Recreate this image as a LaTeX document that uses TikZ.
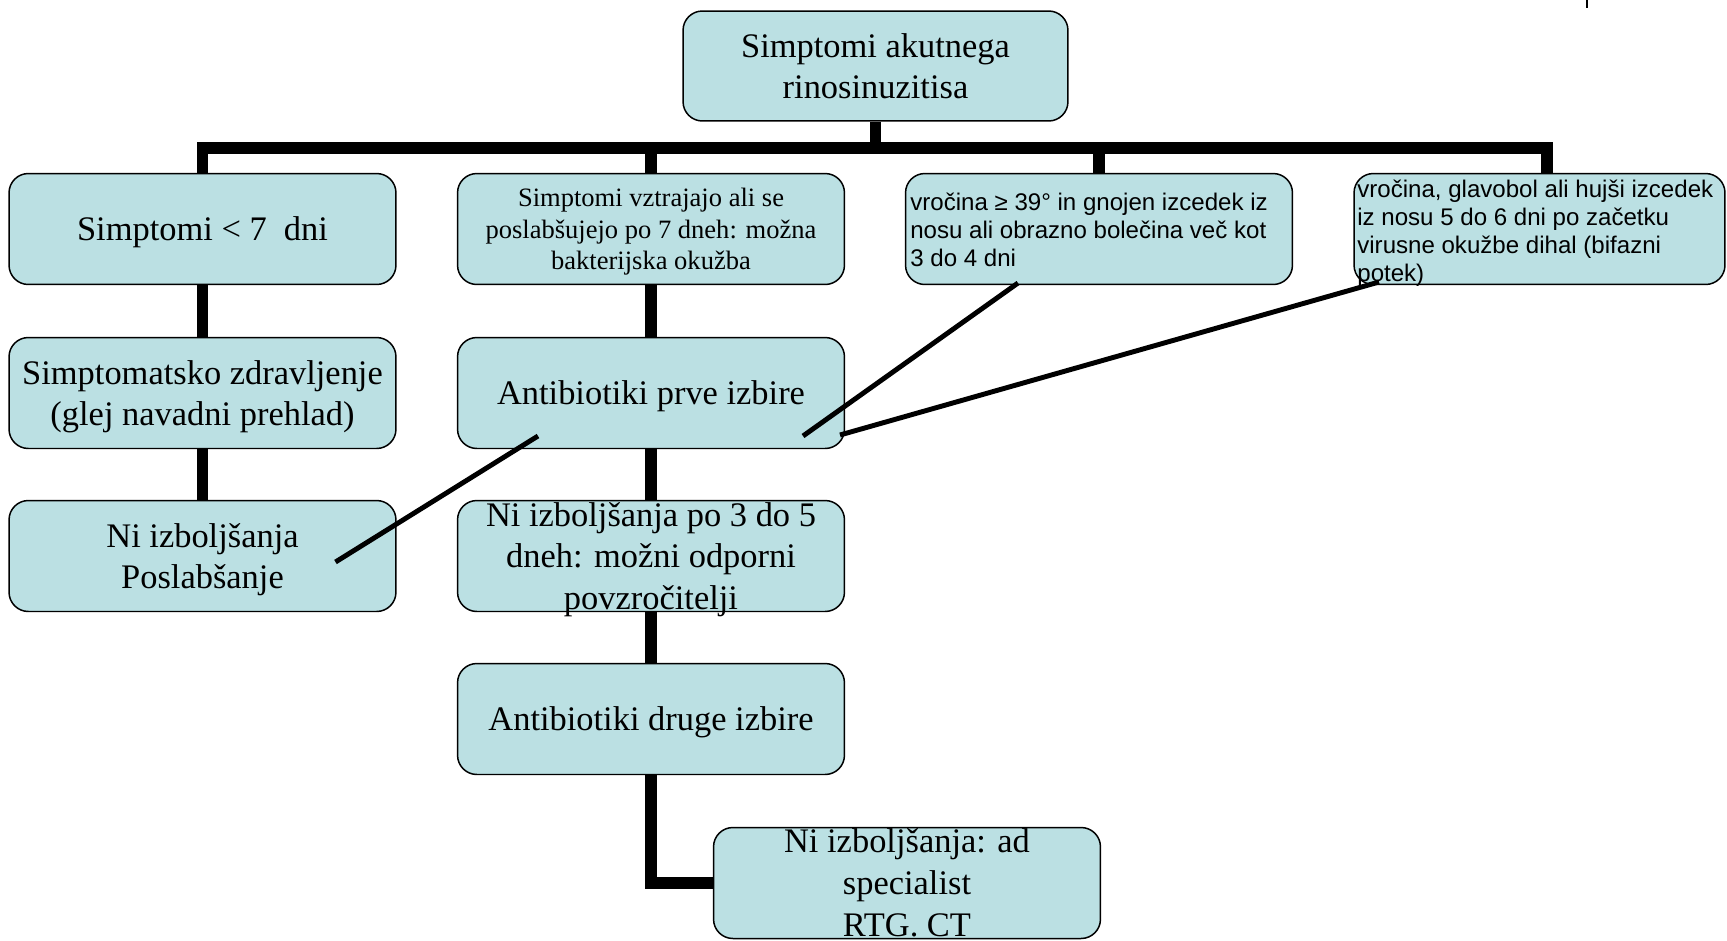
\documentclass[tikz,border=0pt]{standalone}
\usepackage{fontspec}
\setmainfont{Liberation Serif}
\newfontfamily\arialfont{Liberation Sans}
\usepackage{tikz}
\usetikzlibrary{backgrounds}

\definecolor{boxcol}{HTML}{BBE0E3}

\tikzset{
  box/.style={draw=black, line width=0.85pt, fill=boxcol, rounded corners=11pt,
    minimum width=7.74cm, minimum height=2.22cm, inner sep=2pt, align=center},
  big/.style={font=\fontsize{19.6}{23.8}\selectfont, text depth=-2.5pt},
  small/.style={font=\fontsize{15.1}{17.9}\selectfont, text depth=-2.5pt},
  sans/.style={font=\arialfont\fontsize{13.7}{15.9}\selectfont, align=left,
    inner sep=0pt, anchor=base west},
  tree/.style={line width=6.8pt},
  link/.style={line width=2.8pt},
}

\begin{document}
\begin{tikzpicture}[x=0.02cm, y=-0.02cm]
\useasboundingbox (0,0) rectangle (1727,940);

% boxes
\node[box, big, minimum width=7.7cm, minimum height=2.2cm] (top) at (875.5,66) {Simptomi akutnega\\rinosinuzitisa};

\node[box, big] (a) at (202.5,229) {Simptomi < 7~~dni};
\node[box, small] (b) at (651,229) {Simptomi vztrajajo ali se\\poslabšujejo po 7 dneh: možna\\bakterijska okužba};
\node[box] (c) at (1099,229) {};
\node[box, minimum width=7.42cm] (d) at (1539.5,229) {};
% sans texts sit on the baseline of their last line
\node[sans] (ctxt) at (910,266) {vročina ≥ 39° in gnojen izcedek iz\\nosu ali obrazno bolečina več kot\\3 do 4 dni};
\node[sans] (dtxt) at (1357,281) {vročina, glavobol ali hujši izcedek\\iz nosu 5 do 6 dni po začetku\\virusne okužbe dihal (bifazni\\potek)};

\node[box, big] (a2) at (202.5,393) {Simptomatsko zdravljenje\\(glej navadni prehlad)};
\node[box, big] (b2) at (651,393) {Antibiotiki prve izbire};

\node[box, big] (a3) at (202.5,556) {Ni izboljšanja\\Poslabšanje};
\node[box] (b3) at (651,556) {};
\node[big, align=center] (b3txt) at (651,556) {Ni izboljšanja po 3 do 5\\dneh: možni odporni\\povzročitelji};

\node[box, big] (b4) at (651,719) {Antibiotiki druge izbire};

\node[box] (bot) at (907,883) {};
\node[big, align=center] (bottxt) at (907,882.5) {Ni izboljšanja: ad\\specialist\\RTG. CT};

% tree lines behind the boxes
\coordinate (bar) at (875.5,148);
\coordinate (dj) at (1547,174);
\begin{pgfonlayer}{background}
  \draw[tree] (a.north) |- (bar) -| (dj);
  \draw[tree] (top.south) -- (top.south |- bar);
  \draw[tree] (b.north) -- (b.north |- bar);
  \draw[tree] (c.north) -- (c.north |- bar);
  \draw[tree] (a.south) -- (a2.north);
  \draw[tree] (a2.south) -- (a3.north);
  \draw[tree] (b.south) -- (b2.north);
  \draw[tree] (b2.south) -- (b3.north);
  \draw[tree] (b3.south) -- (b4.north);
  \draw[tree] (b4.south) |- (bot.west);
\end{pgfonlayer}

% cross links
\draw[link] ([shift={(133,6)}]a3.center) -- ([shift={(-113,43)}]b2.center);
\draw[link] ([shift={(152,43)}]b2.center) -- ([shift={(-81,54)}]c.center);
\draw[link] ([shift={(189,42)}]b2.center) -- ([shift={(-160.5,53)}]d.center);

\draw[line width=0.7pt] (1587,0) -- (1587,8);
\end{tikzpicture}
\end{document}
